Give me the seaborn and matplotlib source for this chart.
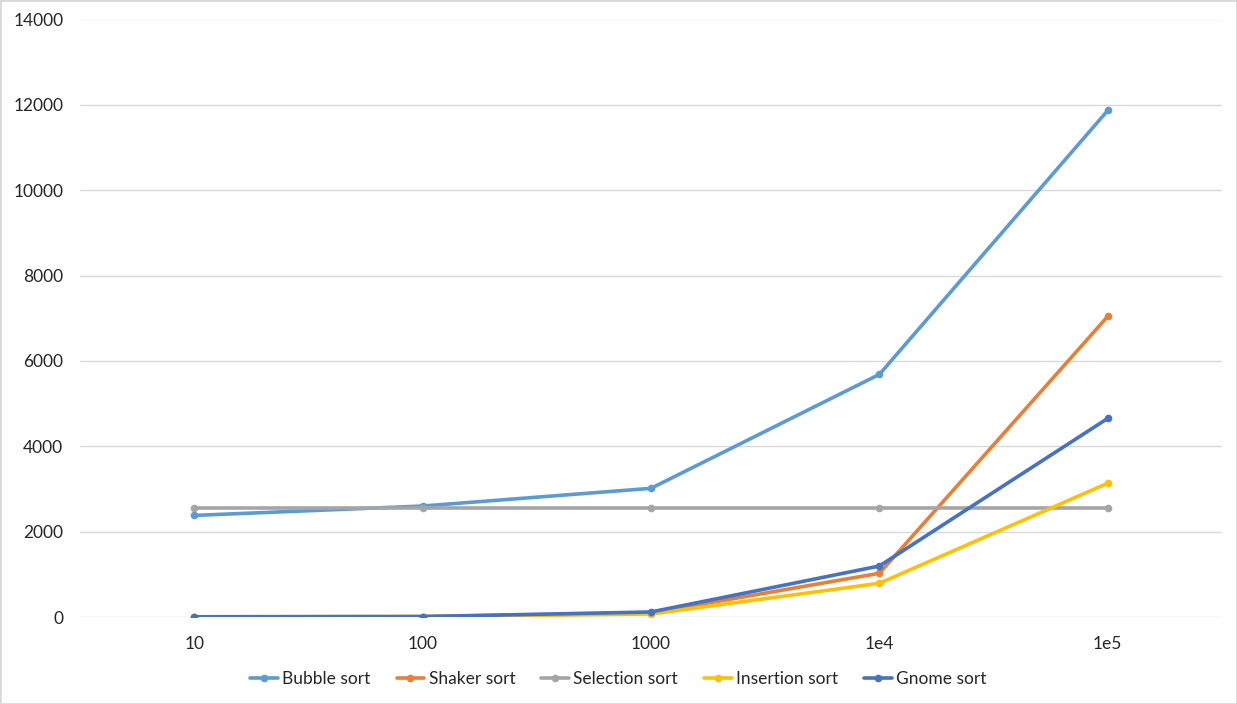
import matplotlib
matplotlib.use("Agg")
import matplotlib.pyplot as plt
import seaborn as sns
import pandas as pd
from matplotlib.lines import Line2D
from matplotlib.patches import Rectangle

sizes = ["10", "100", "1000", "1e4", "1e5"]
bubble = [2380, 2600, 3015, 5685, 11870]
shaker = [5, 10, 95, 1025, 7045]
selection = [2545, 2545, 2545, 2545, 2545]
insertion = [3, 8, 70, 790, 3135]
gnome = [5, 10, 118, 1195, 4655]

series_names = ["Bubble sort", "Shaker sort", "Selection sort", "Insertion sort", "Gnome sort"]
series_vals = [bubble, shaker, selection, insertion, gnome]
colors = ["#5B9BD5", "#ED7D31", "#A5A5A5", "#FFC000", "#4472C4"]

rows = []
for name, vals in zip(series_names, series_vals):
    for i, (s, v) in enumerate(zip(sizes, vals)):
        rows.append({"pos": i, "size": s, "value": v, "series": name})
df = pd.DataFrame(rows)

sns.set_theme(style="white")
plt.rcParams["font.family"] = ["Lato", "DejaVu Sans"]

fig = plt.figure(figsize=(12.37, 7.04), dpi=100)
ax = fig.add_axes([80 / 1237, 1 - 617 / 704, (1222 - 80) / 1237, (617 - 19.5) / 704])

sns.lineplot(data=df, x="pos", y="value", hue="series", hue_order=series_names,
             palette=colors, marker="o", markersize=5.5, markeredgewidth=0,
             linewidth=2.6, ax=ax, legend=False, sort=False)

ax.set_xlim(-0.5, 4.5)
ax.set_ylim(0, 14000)
ax.set_xticks(range(len(sizes)))
ax.set_xticklabels(sizes)
ax.set_yticks(range(0, 14001, 2000))
ax.set_xlabel("")
ax.set_ylabel("")
ax.yaxis.grid(True, color="#D9D9D9", linewidth=1)
ax.xaxis.grid(False)
ax.set_axisbelow(True)
for sp in ax.spines.values():
    sp.set_visible(False)
ax.tick_params(axis="both", length=0, labelsize=12.5, colors="#262626")
ax.tick_params(axis="x", pad=14)
ax.tick_params(axis="y", pad=12)

handles = [Line2D([0], [0], color=c, linewidth=2.6, marker="o", markersize=5.5,
                  markeredgewidth=0) for c in colors]
fig.legend(handles, series_names, loc="center", bbox_to_anchor=(0.5, 1 - 679 / 704),
           ncol=5, frameon=False, fontsize=12.5, handlelength=1.6, handletextpad=0.25,
           columnspacing=1.5, labelcolor="#262626")

fig.patches.append(Rectangle((0, 0), 1, 1, transform=fig.transFigure, fill=False,
                             edgecolor="#D9D9D9", linewidth=2))

fig.savefig("out.png", dpi=100)
